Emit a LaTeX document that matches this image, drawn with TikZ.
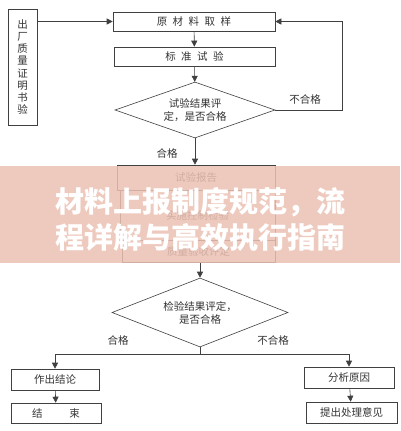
\documentclass[tikz,border=0pt]{standalone}
\usepackage{fontspec}
\usepackage{xcolor}
\newfontfamily\cjk{Noto Sans CJK SC}
\usetikzlibrary{shapes.geometric,arrows.meta}

\definecolor{linegray}{RGB}{64,64,64}
\definecolor{bannerpink}{RGB}{236,193,179}

\tikzset{
  box/.style={draw=linegray,line width=0.6pt,inner sep=1pt,text=black!80,
    font=\cjk\fontsize{10.5}{12.2}\selectfont},
  judge/.style={draw=linegray,line width=0.6pt,diamond,inner sep=0pt,text=black!80,
    align=center,font=\cjk\fontsize{10.5}{13}\selectfont},
  flow/.style={draw=linegray,line width=0.6pt,-{Triangle[length=6pt,width=6pt]}},
  note/.style={text=black!80,font=\cjk\fontsize{10.5}{12}\selectfont},
}
\newcommand{\gap}{\hspace{5.5pt}}

\begin{document}
\begin{tikzpicture}[x=1pt,y=-1pt]
  \useasboundingbox (0,0) rectangle (400,431);
  \fill[white] (0,0) rectangle (400,431);

  % upper part
  \node[box,minimum width=29pt,minimum height=116pt,align=center] (cert) at (22.5,67)
    {出\\厂\\质\\量\\证\\明\\书\\验};
  \node[box,minimum width=162pt,minimum height=19pt] (sample) at (194,21.5)
    {原\gap 材\gap 料\gap 取\gap 样};
  \node[box,minimum width=161pt,minimum height=19pt] (std) at (194.5,56.5)
    {标\gap 准\gap 试\gap 验};
  \node[judge,aspect=2.86,minimum width=160pt,minimum height=56pt] (testok) at (195,110)
    {试验结果评\\定，是否合格};

  \draw[flow] (cert.east |- sample.west) -- (sample.west);
  \draw[flow] (sample) -- (std);
  \draw[flow] (std) -- (testok);
  \draw[flow] (testok.east) -- ++(67,0) |- (sample.east);
  \node[note] at (305,99) {不合格};

  % middle part
  \node[box,minimum width=158pt,minimum height=25pt] (report) at (196,177.5) {试验报告};
  \node[box,minimum width=155pt,minimum height=50pt] (ctrl) at (197.5,215) {实施控制检验};
  \node[box,minimum width=153pt,minimum height=22pt] (accept) at (198.5,251) {质量验收评定};
  \draw[flow] (testok.south) -- (report.north -| testok.south);
  \node[note] at (167,153) {合格};

  % lower part
  \node[judge,aspect=2.55,minimum width=176pt,minimum height=69pt] (checkok) at (200,312.5)
    {检验结果评定，\\是否合格};
  \draw[flow] (accept.south -| checkok.north) -- (checkok.north);

  \node[box,minimum width=88pt,minimum height=21pt] (concl) at (55,379.5) {作出结论};
  \node[box,minimum width=90pt,minimum height=20pt] (finish) at (56,413) {结\hspace{27pt}束};
  \node[box,minimum width=90pt,minimum height=21pt] (cause) at (349,377.5) {分析原因};
  \node[box,minimum width=91pt,minimum height=21pt] (advice) at (351.5,412.5) {提出处理意见};

  \draw[linegray,line width=0.6pt] (checkok.south) -- ++(0,7) coordinate (fork);
  \draw[flow] (fork) -| (concl.north);
  \draw[flow] (fork) -| (cause.north);
  \draw[flow] (concl) -- (finish);
  \draw[flow] (cause) -- (advice);
  \node[note] at (118,340) {合格};
  \node[note] at (273,340) {不合格};

  % title banner
  \fill[bannerpink,opacity=0.85] (0,166) rectangle (400,263);
  \node[text=white,font=\cjk\bfseries\fontsize{29}{35}\selectfont] (title1) at (200,202)
    {材料上报制度规范，流};
  \node[text=white,font=\cjk\bfseries\fontsize{29}{35}\selectfont] (title2) at (200,237)
    {程详解与高效执行指南};
\end{tikzpicture}
\end{document}
